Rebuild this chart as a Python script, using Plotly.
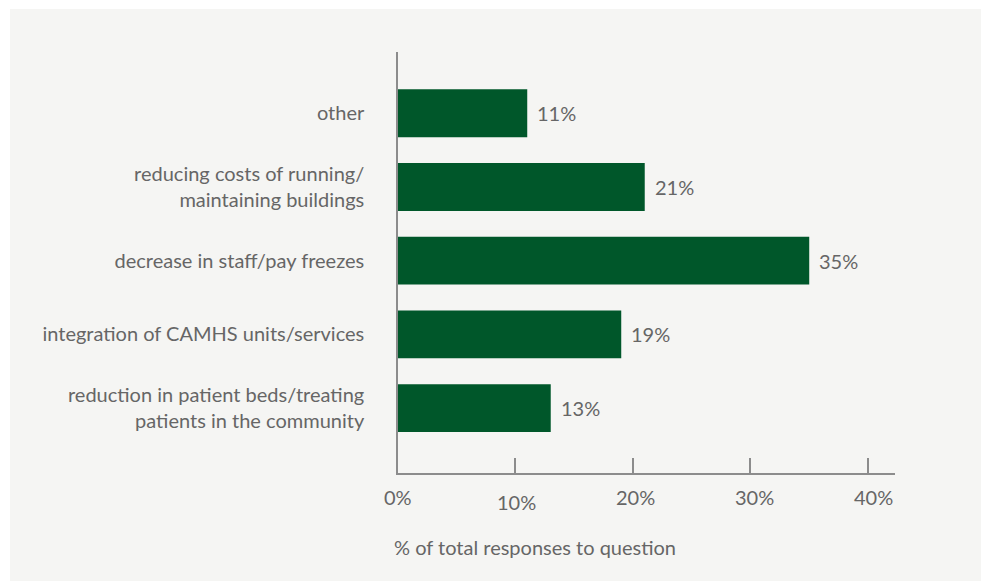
import plotly.graph_objects as go

# Survey responses, listed bottom to top as drawn
categories = [
    "reduction in patient beds/treating<br>patients in the community",
    "integration of CAMHS units/services",
    "decrease in staff/pay freezes",
    "reducing costs of running/<br>maintaining buildings",
    "other",
]
values = [13, 19, 35, 21, 11]
tick_values = [0, 10, 20, 30, 40]
tick_labels = ["0%", "10%", "20%", "30%", "40%"]

BAR = "#00572a"
TEXT = "#666666"
AXIS = "#8c8c8c"
PANEL = "#f5f5f3"
FONT = "Lato"
FS = 20
W, H = 981, 581
L, R, T, B = 398, 86, 52, 108
pw = W - L - R
ph = H - T - B

fig = go.Figure(
    go.Bar(
        x=values,
        y=list(range(len(categories))),
        orientation="h",
        marker=dict(color=BAR, line=dict(width=0)),
        width=0.65,
        hoverinfo="skip",
    )
)

annotations = []
# value labels beside each bar
for i, v in enumerate(values):
    annotations.append(dict(
        x=v, y=i, xref="x", yref="y", text=f"{v}%", showarrow=False,
        xanchor="left", yanchor="middle", xshift=8,
        font=dict(family=FONT, size=FS, color=TEXT),
    ))

# x tick labels (the 10% label sits a little lower)
for tv, tl in zip(tick_values, tick_labels):
    annotations.append(dict(
        x=tv, y=(H - 497 - B) / ph, xref="x", yref="paper", text=tl, showarrow=False,
        xanchor="center", yanchor="middle",
        yshift=-5 if tv == 10 else 0, xshift=tv * 0.15,
        font=dict(family=FONT, size=FS, color=TEXT),
    ))

# axis title
annotations.append(dict(
    x=(392 - L) / pw, y=(H - 547 - B) / ph, xref="paper", yref="paper",
    text="% of total responses to question", showarrow=False,
    xanchor="left", yanchor="middle",
    font=dict(family=FONT, size=FS, color=TEXT),
))

fig.update_layout(
    width=W, height=H,
    margin=dict(l=L, r=R, t=T, b=B, pad=0),
    paper_bgcolor="white",
    plot_bgcolor="rgba(0,0,0,0)",
    showlegend=False,
    font=dict(family=FONT, size=FS, color=TEXT),
    annotations=annotations,
    shapes=[dict(
        type="rect", xref="paper", yref="paper", layer="below",
        x0=(10 - L) / pw, x1=(W + 5 - L) / pw,
        y0=-(B + 5) / ph, y1=(H - 9 - B) / ph,
        fillcolor=PANEL, line=dict(width=0),
    )],
    xaxis=dict(
        range=[0, 42.3], tickvals=tick_values, showticklabels=False,
        ticks="inside", ticklen=15, tickwidth=1.5, tickcolor=AXIS,
        showline=True, linecolor=AXIS, linewidth=1.5,
        showgrid=False, zeroline=False, fixedrange=True,
    ),
    yaxis=dict(
        range=[-0.88, 4.83], tickvals=list(range(len(categories))), ticktext=categories,
        ticks="", showline=True, linecolor=AXIS, linewidth=1.5,
        ticklabelstandoff=28,
        showgrid=False, zeroline=False, fixedrange=True,
        tickfont=dict(family=FONT, size=FS, color=TEXT),
    ),
)

fig.write_html("out.html")
